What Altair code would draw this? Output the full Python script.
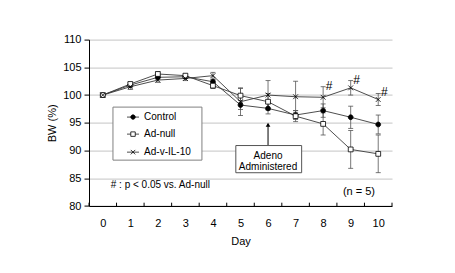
import altair as alt
import pandas as pd

# ---------------- data ----------------
days = list(range(11))
series = ["Control", "Ad-null", "Ad-v-IL-10"]
control_mean = [100, 101.8, 103.2, 103.3, 102.4, 98.2, 97.6, 96.4, 97.2, 96.0, 94.7]
control_se = [0, 0.4, 0.4, 0.3, 0.4, 0.8, 1.0, 0.8, 1.2, 2.0, 1.7]
adnull_mean = [100, 102.0, 103.8, 103.5, 101.7, 99.9, 98.8, 96.2, 94.8, 90.2, 89.4]
adnull_se = [0, 0.3, 0.4, 0.3, 0.5, 1.3, 1.5, 1.0, 2.0, 3.4, 3.4]
il10_mean = [100, 101.5, 102.7, 103.0, 103.5, 98.8, 100.0, 99.7, 99.6, 101.3, 99.2]
il10_se = [0, 0.5, 0.4, 0.4, 0.6, 2.5, 2.6, 2.8, 1.9, 1.3, 1.1]
sig_days = [8, 9, 10]          # '#' marks on Ad-v-IL-10
y_ticks = [80, 85, 90, 95, 100, 105, 110]
footnote = "# : p < 0.05 vs. Ad-null"
n_note = "(n = 5)"
adeno_text = "Adeno\nAdministered"
adeno_day = 6

# annotation / legend placement (data units)
box_x = [4.83, 7.22]
box_y = [86.0, 90.9]
arrow_tip = 95.2
legend_box_x = [0.37, 3.60]
legend_box_y = [88.27, 97.83]
legend_rows_y = [96.03, 92.96, 89.71]
legend_line_x = [0.88, 1.316]
legend_text_x = 1.50

# ---------------- tables ----------------
rows = []
for name, m, s in [("Control", control_mean, control_se),
                   ("Ad-null", adnull_mean, adnull_se),
                   ("Ad-v-IL-10", il10_mean, il10_se)]:
    for d, mv, sv in zip(days, m, s):
        rows.append({"day": d, "series": name, "mean": mv, "se": sv,
                     "lo": mv - sv, "hi": mv + sv})
df = pd.DataFrame(rows)
err_df = df[df["se"] > 0]
sig_df = df[(df["series"] == "Ad-v-IL-10") & (df["day"].isin(sig_days))]
tick_df = pd.DataFrame({"t": [d - 0.5 for d in days] + [days[-1] + 0.5]})
tick_df["y0"] = 80.0
tick_df["y1"] = 80.6
ann_df = pd.DataFrame({"x": [box_x[0]], "x2": [box_x[1]], "y": [box_y[0]], "y2": [box_y[1]],
                       "ax": [adeno_day], "ay": [box_y[1]], "ay2": [arrow_tip - 0.5],
                       "tip": [arrow_tip - 0.55], "ty": [89.04],
                       "label": [adeno_text]})
note_df = pd.DataFrame({"x": [0.29, 9.3], "y": [83.75, 82.5], "txt": [footnote, n_note]})
legbox_df = pd.DataFrame({"x": [legend_box_x[0]], "x2": [legend_box_x[1]],
                          "y": [legend_box_y[0]], "y2": [legend_box_y[1]]})
leg_df = pd.DataFrame({"series": series, "y": legend_rows_y,
                       "x0": legend_line_x[0], "x1": legend_line_x[1],
                       "xm": sum(legend_line_x) / 2, "xt": legend_text_x})

FONT = "Liberation Sans"
x_scale = alt.Scale(domain=[-0.5, 10.5], nice=False, zero=False)
y_scale = alt.Scale(domain=[80, 110], nice=False, zero=False)

x_axis = alt.Axis(values=days, ticks=False, grid=False, domainColor="black",
                  labelFontSize=11, labelPadding=11, labelColor="black", labelFlush=False,
                  titleFontSize=11, titleFontWeight="normal", titlePadding=7, titleColor="black")
y_axis = alt.Axis(values=y_ticks, grid=True, gridColor="#c4c4c4", tickColor="black", tickSize=5,
                  domainColor="black", labelFontSize=11, labelPadding=3, labelColor="black",
                  titleFontSize=11, titleFontWeight="normal", titlePadding=5, titleColor="black")


def X(field):
    return alt.X(field, scale=x_scale, axis=x_axis, title="Day")


def Y(field):
    return alt.Y(field, scale=y_scale, axis=y_axis, title="BW (%)")


marker_paths = ["M1,0A1,1,0,1,1,-1,0A1,1,0,1,1,1,0Z",
                "M-1,-1H1V1H-1Z",
                "M-1,-1L1,1M-1,1L1,-1"]
fills = ["black", "white", "white"]
shape_enc = alt.Shape("series:N", scale=alt.Scale(domain=series, range=marker_paths), legend=None)
fill_enc = alt.Fill("series:N", scale=alt.Scale(domain=series, range=fills), legend=None)

base = alt.Chart(df)

ticks = alt.Chart(tick_df).mark_rule(color="black", strokeWidth=1).encode(
    x=X("t:Q"), y=Y("y0:Q"), y2="y1:Q")

lines = base.mark_line(color="#3a3a3a", strokeWidth=0.9).encode(
    x=X("day:Q"), y=Y("mean:Q"), detail="series:N")

err = alt.Chart(err_df).mark_rule(color="#555555", strokeWidth=0.8).encode(
    x=X("day:Q"), y=Y("lo:Q"), y2="hi:Q")
cap_lo = alt.Chart(err_df).mark_tick(orient="horizontal", size=5, thickness=0.8,
                                     color="#555555", opacity=1).encode(x=X("day:Q"), y=Y("lo:Q"))
cap_hi = alt.Chart(err_df).mark_tick(orient="horizontal", size=5, thickness=0.8,
                                     color="#555555", opacity=1).encode(x=X("day:Q"), y=Y("hi:Q"))

pts = base.mark_point(size=23, stroke="black", strokeWidth=0.8, opacity=1).encode(
    x=X("day:Q"), y=Y("mean:Q"), shape=shape_enc, fill=fill_enc)

sig = alt.Chart(sig_df).mark_text(text="#", font=FONT, fontSize=12, color="black",
                                  align="center", baseline="middle", dx=6, dy=-1).encode(
    x=X("day:Q"), y=Y("hi:Q"))

box = alt.Chart(ann_df).mark_rect(fill="white", stroke="#555555", strokeWidth=1).encode(
    x=X("x:Q"), x2="x2:Q", y=Y("y:Q"), y2="y2:Q")
arrow = alt.Chart(ann_df).mark_rule(color="black", strokeWidth=1).encode(
    x=X("ax:Q"), y=Y("ay:Q"), y2="ay2:Q")
head = alt.Chart(ann_df).mark_point(shape="triangle-up", size=22, filled=True,
                                    color="black", opacity=1).encode(x=X("ax:Q"), y=Y("tip:Q"))
box_txt = alt.Chart(ann_df).mark_text(font=FONT, fontSize=10, color="black", lineBreak="\n",
                                      lineHeight=11, align="center", baseline="middle").encode(
    x=X("ax:Q"), y=Y("ty:Q"), text="label:N")

foot = alt.Chart(note_df.iloc[[0]]).mark_text(font=FONT, fontSize=10, color="black",
                                              align="left", baseline="middle").encode(
    x=X("x:Q"), y=Y("y:Q"), text="txt:N")
nn = alt.Chart(note_df.iloc[[1]]).mark_text(font=FONT, fontSize=11, color="black",
                                            align="center", baseline="middle").encode(
    x=X("x:Q"), y=Y("y:Q"), text="txt:N")

# legend (box, line samples, markers, labels)
leg_box = alt.Chart(legbox_df).mark_rect(fill="white", stroke="#808080", strokeWidth=1).encode(
    x=X("x:Q"), x2="x2:Q", y=Y("y:Q"), y2="y2:Q")
leg_line = alt.Chart(leg_df).mark_rule(color="#3a3a3a", strokeWidth=0.9).encode(
    x=X("x0:Q"), x2="x1:Q", y=Y("y:Q"))
leg_pt = alt.Chart(leg_df).mark_point(size=20, stroke="black", strokeWidth=0.8, opacity=1).encode(
    x=X("xm:Q"), y=Y("y:Q"), shape=shape_enc, fill=fill_enc)
leg_txt = alt.Chart(leg_df).mark_text(font=FONT, fontSize=10, color="black", align="left",
                                      baseline="middle").encode(
    x=X("xt:Q"), y=Y("y:Q"), text="series:N")

chart = alt.layer(lines, ticks, err, cap_lo, cap_hi, pts, sig, arrow, box, head, box_txt,
                  foot, nn, leg_box, leg_line, leg_pt, leg_txt).properties(
    width=303, height=166.4,
    autosize=alt.AutoSizeParams(type="none"),
    padding={"left": 81, "top": 31.6, "right": 40, "bottom": 45},
    background="white"
).configure(font=FONT).configure_view(stroke=None)

chart.save("out.html", embed_options={"renderer": "svg", "actions": False})
